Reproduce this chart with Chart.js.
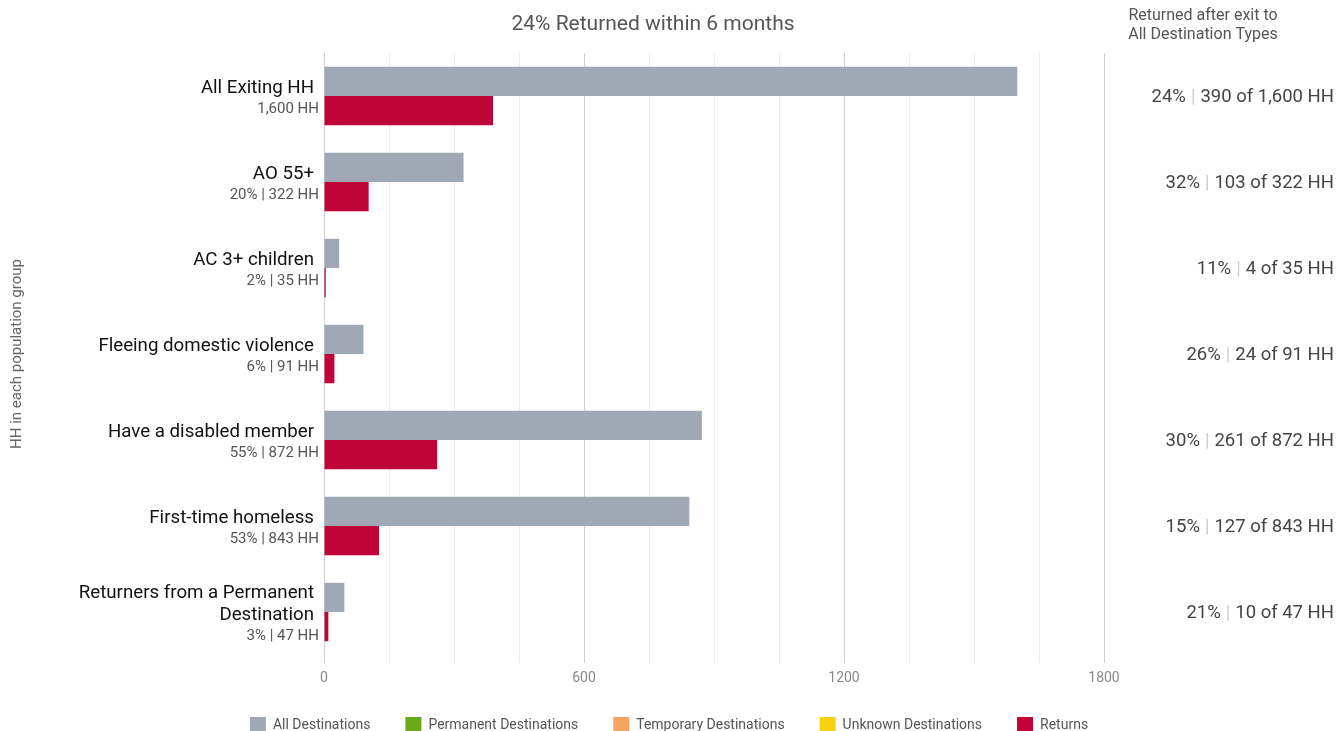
<!DOCTYPE html>
<html>
<head>
<meta charset="utf-8">
<script src="https://cdn.jsdelivr.net/npm/chart.js@4.4.1/dist/chart.umd.min.js"></script>
<style>
  body { margin: 0; background: #fff; }
  #wrap { width: 1338px; height: 731px; }
</style>
</head>
<body>
<div id="wrap"><canvas id="returnsChart" width="1338" height="731"></canvas></div>
<script>
// population groups (multi-line where the label wraps)
const groups = [
  ['All Exiting HH'],
  ['AO 55+'],
  ['AC 3+ children'],
  ['Fleeing domestic violence'],
  ['Have a disabled member'],
  ['First-time homeless'],
  ['Returners from a Permanent', 'Destination']
];
const allDestinations = [1600, 322, 35, 91, 872, 843, 47];
const permanentDestinations = [];
const temporaryDestinations = [];
const unknownDestinations = [];
const returnsCount = [390, 103, 4, 24, 261, 127, 10];
const xTickLabels = [0, 600, 1200, 1800];

const FONT = 'Roboto, "Noto Sans", sans-serif';
const pct = (a, b) => Math.round(a / b * 100) + '%';
const fmt = n => n.toLocaleString('en-US');

const subLabel = i => i === 0
  ? fmt(allDestinations[0]) + ' HH'
  : pct(allDestinations[i], allDestinations[0]) + ' | ' + fmt(allDestinations[i]) + ' HH';

// labels, title and the right-hand summary column
const textPlugin = {
  id: 'textPlugin',
  afterInit(chart) {
    // pull the legend closer to the bottom edge
    const legend = chart.legend;
    const fit = legend.fit.bind(legend);
    legend.fit = function () { fit(); this.height -= 12; };
  },
  afterDraw(chart) {
    const ctx = chart.ctx;
    const y = chart.scales.y;
    const area = chart.chartArea;
    ctx.save();
    ctx.textBaseline = 'middle';

    // title
    ctx.textAlign = 'center';
    ctx.fillStyle = '#555';
    ctx.font = '21px ' + FONT;
    ctx.fillText(pct(returnsCount[0], allDestinations[0]) + ' Returned within 6 months', 653, 25);

    // column header
    ctx.font = '16px ' + FONT;
    ctx.fillText('Returned after exit to', 1203, 16);
    ctx.fillText('All Destination Types', 1203, 35);

    groups.forEach((lines, i) => {
      const c = y.getPixelForValue(i);
      const n = lines.length + 1;
      let ly = c - (n - 1) * 21 / 2 + 2.5;
      ctx.textAlign = 'right';
      ctx.font = '18.7px ' + FONT;
      ctx.fillStyle = '#111';
      lines.forEach(t => { ctx.fillText(t, area.left - 10, ly); ly += 21.5; });
      ctx.font = '15px ' + FONT;
      ctx.fillStyle = '#555';
      ctx.fillText(subLabel(i), area.left - 5, ly);

      // right column: "24% | 390 of 1,600 HH"
      ctx.font = '18.5px ' + FONT;
      const tail = fmt(returnsCount[i]) + ' of ' + fmt(allDestinations[i]) + ' HH';
      const head = pct(returnsCount[i], allDestinations[i]);
      let x = 1334;
      ctx.fillStyle = '#444';
      ctx.fillText(tail, x, c + 1);
      x -= ctx.measureText(tail).width + 5;
      ctx.fillStyle = '#ccc';
      ctx.fillText('|', x, c + 1);
      x -= ctx.measureText('|').width + 5;
      ctx.fillStyle = '#444';
      ctx.fillText(head, x, c + 1);
    });
    ctx.restore();
  }
};

const gridColor = ctx => (ctx.tick && ctx.tick.value % 600 === 0) ? '#d0d0d0' : '#ececec';

new Chart(document.getElementById('returnsChart'), {
  type: 'bar',
  data: {
    labels: groups,
    datasets: [
      { label: 'All Destinations', data: allDestinations, backgroundColor: '#9fa8b4' },
      { label: 'Permanent Destinations', data: permanentDestinations, backgroundColor: '#6aa81a' },
      { label: 'Temporary Destinations', data: temporaryDestinations, backgroundColor: '#f7a462' },
      { label: 'Unknown Destinations', data: unknownDestinations, backgroundColor: '#f5d10f' },
      { label: 'Returns', data: returnsCount, backgroundColor: '#c00438' }
    ]
  },
  options: {
    responsive: false,
    animation: false,
    indexAxis: 'y',
    skipNull: true,
    categoryPercentage: 0.68,
    barPercentage: 1.0,
    layout: { padding: { top: 53, left: 0, right: 0, bottom: 0 } },
    scales: {
      x: {
        min: 0,
        max: 1800,
        border: { display: false },
        grid: { color: gridColor, tickColor: gridColor, tickLength: 8, lineWidth: 1 },
        ticks: {
          stepSize: 150,
          autoSkip: false,
          maxRotation: 0,
          padding: 7,
          color: '#888',
          font: { family: FONT, size: 14 },
          callback: v => xTickLabels.includes(v) ? v : ''
        },
        afterFit: s => { s.height = 27; }
      },
      y: {
        grid: { display: false },
        border: { display: false },
        ticks: { display: false },
        title: {
          display: true,
          text: 'HH in each population group',
          color: '#666',
          font: { family: FONT, size: 15 },
          padding: { top: 8, bottom: 0 }
        },
        afterFit: s => { s.width = 324; }
      },
      side: {
        type: 'linear',
        position: 'right',
        grid: { display: false },
        border: { display: false },
        ticks: { display: false },
        afterFit: s => { s.width = 234; }
      }
    },
    plugins: {
      legend: {
        position: 'bottom',
        labels: {
          boxWidth: 16,
          boxHeight: 16,
          padding: 35,
          color: '#555',
          font: { family: FONT, size: 14 }
        }
      },
      tooltip: { enabled: false }
    }
  },
  plugins: [textPlugin]
});
</script>
</body>
</html>
